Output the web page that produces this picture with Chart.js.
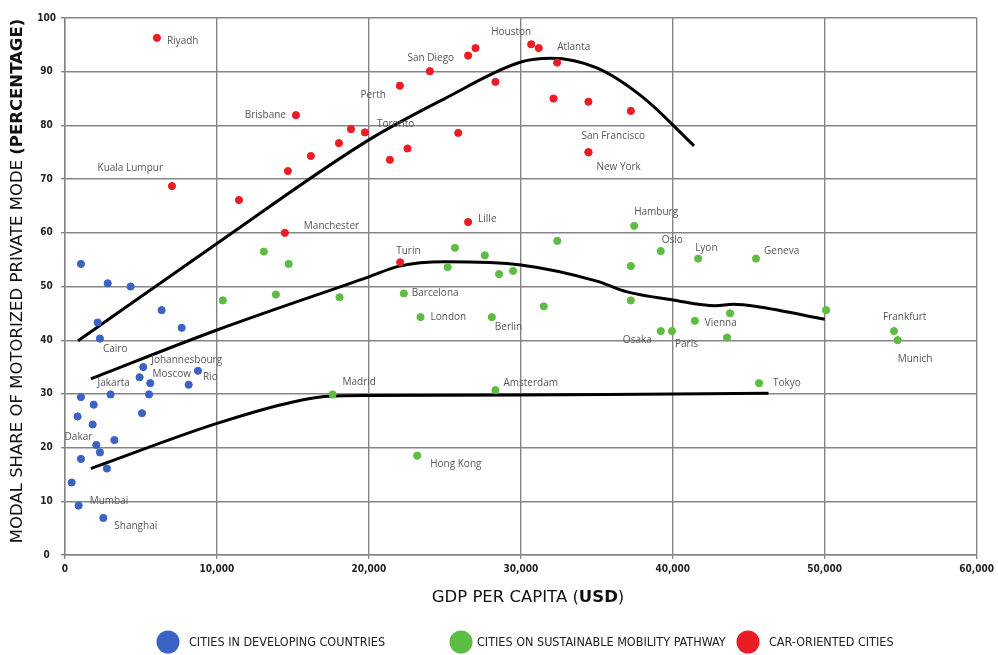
<!DOCTYPE html>
<html>
<head>
<meta charset="utf-8">
<script src="https://cdn.jsdelivr.net/npm/chart.js@4.4.1/dist/chart.umd.min.js"></script>
<style>
  html, body { margin: 0; background: #fff; }
</style>
</head>
<body>
<canvas id="chart" width="998" height="655"></canvas>
<script>
// Ciudades en países en desarrollo (PIB per cápita, % modo privado)
const developingGdp = [1050, 2810, 4320, 6360, 2150, 7680, 2300, 5150, 4910, 5610, 8750, 8140, 3000, 5530,
  1050, 1890, 5070, 830, 1820, 3250, 2060, 2300, 1050, 2760, 440, 900, 2520];
const developingShare = [54.2, 50.6, 50.0, 45.6, 43.3, 42.3, 40.3, 35.0, 33.1, 32.0, 34.3, 31.7, 29.9, 29.9,
  29.4, 28.0, 26.4, 25.8, 24.3, 21.4, 20.5, 19.1, 17.9, 16.1, 13.5, 9.2, 6.9];
const developingNames = ["", "", "", "", "", "", "Cairo", "Johannesbourg", "Moscow", "", "Rio", "", "Jakarta", "",
  "", "", "", "", "", "", "Dakar", "", "", "", "", "Mumbai", "Shanghai"];

// Ciudades en la vía de movilidad sostenible
const sustainableGdp = [13090, 14720, 10390, 13880, 18070, 17610, 25660, 27630, 25180, 28570, 29490, 32400,
  37460, 37240, 39210, 22300, 23400, 28090, 31510, 37240, 39210, 39950, 28330, 23180, 41670, 45480,
  41450, 43770, 43570, 50090, 54560, 54800, 45680];
const sustainableShare = [56.5, 54.2, 47.4, 48.5, 48.0, 29.9, 57.2, 55.8, 53.6, 52.3, 52.9, 58.5,
  61.3, 53.8, 56.6, 48.7, 44.3, 44.3, 46.3, 47.4, 41.7, 41.7, 30.7, 18.5, 55.2, 55.2,
  43.6, 45.0, 40.5, 45.6, 41.7, 40.0, 32.0];
const sustainableNames = ["", "", "", "", "", "Madrid", "", "", "", "", "", "",
  "Hamburg", "", "Oslo", "Barcelona", "London", "Berlin", "", "", "Osaka", "Paris", "Amsterdam", "Hong Kong", "Lyon", "Geneva",
  "Vienna", "", "", "", "Frankfurt", "Munich", "Tokyo"];

// Ciudades orientadas al coche
const carGdp = [6050, 15200, 7040, 11450, 14470, 14670, 16180, 18030, 18820, 19740, 22040, 24010, 26530, 27020,
  28330, 30680, 31180, 32390, 32150, 34450, 37240, 34450, 34450, 25880, 22540, 21380, 26530, 22060];
const carShare = [96.3, 81.9, 68.7, 66.1, 60.0, 71.5, 74.3, 76.7, 79.3, 78.7, 87.4, 90.1, 93.0, 94.4,
  88.1, 95.1, 94.4, 91.7, 85.0, 84.4, 82.7, 75.0, 75.0, 78.6, 75.7, 73.6, 62.0, 54.5];
const carNames = ["Riyadh", "Brisbane", "Kuala Lumpur", "", "Manchester", "", "", "", "", "Toronto", "Perth", "", "San Diego", "",
  "", "Houston", "", "Atlanta", "", "", "", "San Francisco", "New York", "", "", "", "Lille", "Turin"];

// Curvas de tendencia
const developingTrendGdp = [1700, 10000, 15000, 17600, 20000, 30000, 40000, 46300];
const developingTrendShare = [16.1, 24.5, 28.5, 29.6, 29.7, 29.8, 30.0, 30.1];
const sustainableTrendGdp = [1700, 10000, 20000, 22000, 25000, 30000, 35000, 37000, 40000, 42800, 44000, 45700, 50000];
const sustainableTrendShare = [32.8, 41.9, 51.8, 53.8, 54.6, 54.0, 51.0, 49.0, 47.5, 46.4, 46.7, 46.2, 43.9];
const carTrendGdp = [860, 10000, 20000, 25000, 30000, 32000, 35000, 38000, 41400];
const carTrendShare = [39.9, 58.0, 77.3, 85.0, 91.8, 92.5, 90.7, 85.3, 76.2];

const xTicks = [0, 10000, 20000, 30000, 40000, 50000, 60000];
const legendLabels = ["CITIES IN DEVELOPING COUNTRIES", "CITIES ON SUSTAINABLE MOBILITY PATHWAY", "CAR-ORIENTED CITIES"];

const BLUE = "#3a63c3";
const GREEN = "#5cbd42";
const RED = "#ec1c24";

// Desplazamiento de cada etiqueta respecto a su punto: [dx, dy, alineación]
const labelOffsets = {
  "Cairo": [3, 11, "left"], "Johannesbourg": [8, -7, "left"], "Moscow": [13, -3, "left"], "Rio": [5, 6, "left"],
  "Jakarta": [-13, -11, "left"], "Dakar": [-4, -8, "right"], "Mumbai": [11, -4, "left"], "Shanghai": [11, 8, "left"],
  "Madrid": [10, -12, "left"], "Hamburg": [0, -14, "left"], "Oslo": [1, -11, "left"], "Barcelona": [8, 0, "left"],
  "London": [10, 0, "left"], "Berlin": [3, 10, "left"], "Osaka": [-9, 9, "right"], "Paris": [3, 13, "left"],
  "Amsterdam": [8, -7, "left"], "Hong Kong": [13, 9, "left"], "Lyon": [-3, -10, "left"], "Geneva": [8, -7, "left"],
  "Vienna": [10, 2, "left"], "Frankfurt": [-11, -14, "left"], "Munich": [0, 19, "left"], "Tokyo": [14, 0, "left"],
  "Riyadh": [10, 3, "left"], "Brisbane": [-10, 0, "right"], "Kuala Lumpur": [-9, -18, "right"], "Manchester": [19, -7, "left"],
  "Toronto": [12, -8, "left"], "Perth": [-14, 9, "right"], "San Diego": [-14, 3, "right"], "Houston": [0, -12, "right"],
  "Atlanta": [0, -15, "left"], "San Francisco": [-7, -16, "left"], "New York": [8, 15, "left"], "Lille": [10, -3, "left"],
  "Turin": [-4, -11, "left"]
};

function toPoints(xs, ys) {
  return xs.map((x, i) => ({ x: x, y: ys[i] }));
}

function scatterSet(label, xs, ys, names, color) {
  return {
    type: "scatter",
    label: label,
    data: toPoints(xs, ys),
    names: names,
    backgroundColor: color,
    borderColor: color,
    pointRadius: 3.6,
    pointHoverRadius: 3.6,
    order: 1
  };
}

function trendSet(xs, ys) {
  return {
    type: "line",
    label: "trend",
    data: toPoints(xs, ys),
    borderColor: "#000",
    borderWidth: 3,
    pointRadius: 0,
    fill: false,
    cubicInterpolationMode: "monotone",
    order: 2
  };
}

// Etiquetas de ciudades junto a los puntos
const cityLabels = {
  id: "cityLabels",
  afterDatasetsDraw(chart) {
    const ctx = chart.ctx;
    ctx.save();
    ctx.font = "10px 'Open Sans'";
    ctx.fillStyle = "#555";
    ctx.textBaseline = "middle";
    chart.data.datasets.forEach((ds, di) => {
      if (!ds.names) return;
      const meta = chart.getDatasetMeta(di);
      ds.names.forEach((name, i) => {
        if (!name) return;
        const off = labelOffsets[name] || [8, 0, "left"];
        const pt = meta.data[i];
        ctx.textAlign = off[2];
        ctx.fillText(name, pt.x + off[0], pt.y + off[1]);
      });
    });
    ctx.restore();
  }
};

// Títulos de ejes con parte en negrita y leyenda propia
const titlesAndLegend = {
  id: "titlesAndLegend",
  afterDraw(chart) {
    const ctx = chart.ctx;
    const titleFont = "16.5px 'DejaVu Sans'";
    const titleBold = "bold 16.5px 'DejaVu Sans'";
    ctx.save();
    ctx.fillStyle = "#111";
    ctx.textBaseline = "middle";
    ctx.textAlign = "left";

    // título eje X
    const xa = "GDP PER CAPITA (", xb = "USD", xc = ")";
    ctx.font = titleFont;
    const wa = ctx.measureText(xa).width, wc = ctx.measureText(xc).width;
    ctx.font = titleBold;
    const wb = ctx.measureText(xb).width;
    let x = 528 - (wa + wb + wc) / 2;
    const y = 598;
    ctx.font = titleFont; ctx.fillText(xa, x, y); x += wa;
    ctx.font = titleBold; ctx.fillText(xb, x, y); x += wb;
    ctx.font = titleFont; ctx.fillText(xc, x, y);

    // título eje Y
    const ya = "MODAL SHARE OF MOTORIZED PRIVATE MODE ", yb = "(PERCENTAGE)";
    ctx.font = titleFont;
    const wya = ctx.measureText(ya).width;
    ctx.font = titleBold;
    const wyb = ctx.measureText(yb).width;
    ctx.save();
    ctx.translate(18, 281);
    ctx.rotate(-Math.PI / 2);
    let t = -(wya + wyb) / 2;
    ctx.font = titleFont; ctx.fillText(ya, t, 0); t += wya;
    ctx.font = titleBold; ctx.fillText(yb, t, 0);
    ctx.restore();

    // leyenda
    const colors = [BLUE, GREEN, RED];
    const cx = [168, 461, 748];
    const tx = [189, 477, 769];
    ctx.font = "12.5px 'DejaVu Sans Condensed'";
    legendLabels.forEach((lab, i) => {
      ctx.beginPath();
      ctx.fillStyle = colors[i];
      ctx.ellipse(cx[i], 642, 11.5, 11.5, 0, 0, Math.PI * 2);
      ctx.fill();
      ctx.fillStyle = "#222";
      ctx.fillText(lab, tx[i], 643);
    });
    ctx.restore();
  }
};

new Chart(document.getElementById("chart"), {
  data: {
    datasets: [
      scatterSet(legendLabels[0], developingGdp, developingShare, developingNames, BLUE),
      scatterSet(legendLabels[1], sustainableGdp, sustainableShare, sustainableNames, GREEN),
      scatterSet(legendLabels[2], carGdp, carShare, carNames, RED),
      trendSet(developingTrendGdp, developingTrendShare),
      trendSet(sustainableTrendGdp, sustainableTrendShare),
      trendSet(carTrendGdp, carTrendShare)
    ]
  },
  options: {
    responsive: false,
    animation: false,
    layout: { padding: { top: 18, right: 21, left: 0, bottom: 0 } },
    plugins: {
      legend: { display: false },
      tooltip: { enabled: false }
    },
    scales: {
      x: {
        type: "linear",
        min: 0,
        max: 60000,
        afterBuildTicks: s => { s.ticks = xTicks.map(v => ({ value: v })); },
        afterFit: s => { s.height = 100; },
        ticks: {
          padding: 4,
          color: "#222",
          font: { family: "DejaVu Sans Condensed", size: 10, weight: "bold" },
          callback: v => v.toLocaleString("en-US")
        },
        grid: { color: "#858585", lineWidth: 1.4, tickLength: 4 },
        border: { color: "#858585", width: 1.4 }
      },
      y: {
        min: 0,
        max: 100,
        afterFit: s => { s.width = 65; },
        ticks: {
          stepSize: 10,
          padding: 5,
          crossAlign: "center",
          color: "#222",
          font: { family: "DejaVu Sans Condensed", size: 10, weight: "bold" }
        },
        grid: { color: "#858585", lineWidth: 1.4, tickLength: 4 },
        border: { color: "#858585", width: 1.4 }
      }
    }
  },
  plugins: [cityLabels, titlesAndLegend]
});
</script>
</body>
</html>
